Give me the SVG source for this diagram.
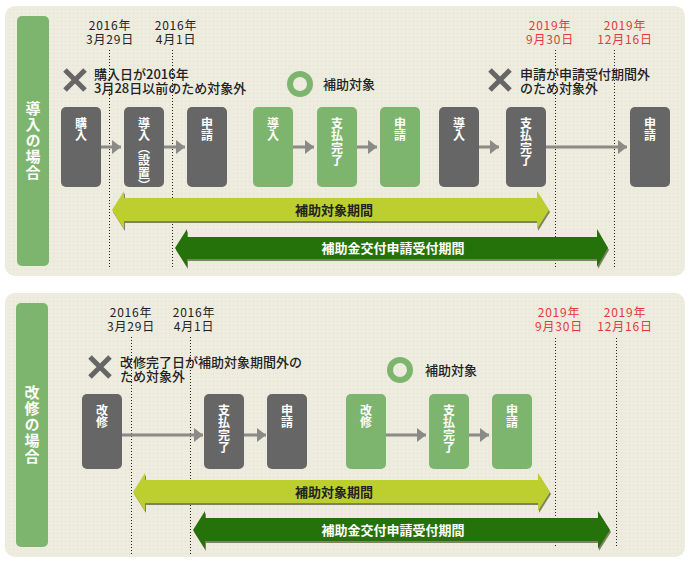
<svg xmlns="http://www.w3.org/2000/svg" width="694" height="561" viewBox="0 0 694 561">
<defs>
<pattern id="dots" width="4" height="4" patternUnits="userSpaceOnUse">
<rect width="4" height="4" fill="#edecdf"/>
<rect x="1" y="1" width="1" height="1" fill="#e1e0d0"/>
</pattern>
<marker id="ah" viewBox="0 0 9 14" refX="9" refY="7" markerWidth="9" markerHeight="14" markerUnits="userSpaceOnUse" orient="auto">
<path d="M0,0 L9,7 L0,14 Z" fill="#8a8a87"/>
</marker>
<style>
.panel{fill:url(#dots)}
.bar{fill:#7db56e}
.bartxt{font-family:"Noto Sans CJK JP",sans-serif;font-weight:bold;font-size:15px;fill:#fff;writing-mode:vertical-rl;text-anchor:middle;letter-spacing:1px}
.gray{fill:#666666}
.green{fill:#7db56e}
.bt{font-family:"Noto Sans CJK JP",sans-serif;font-weight:bold;font-size:12px;fill:#fff;writing-mode:vertical-rl;letter-spacing:0.5px}
.date{font-family:"Noto Sans CJK JP",sans-serif;font-size:12px;fill:#222;text-anchor:middle;letter-spacing:0.8px}
.red{fill:#e23a3a}
.note{font-family:"Noto Sans CJK JP",sans-serif;font-size:13px;fill:#222;font-weight:500}
.dotline{stroke:#222;stroke-width:1;stroke-dasharray:1 2;fill:none}
.xm{stroke:#666;stroke-width:5;fill:none}
.om{stroke:#7db56e;stroke-width:6;fill:none}
.flow{stroke:#8a8a87;stroke-width:3;fill:none;marker-end:url(#ah)}
.shadow{fill:#7f8166}
.lg{fill:#bdcf2e}
.dg{fill:#26720a}
.lgt{font-family:"Noto Sans CJK JP",sans-serif;font-weight:bold;font-size:13px;fill:#222;text-anchor:middle}
.dgt{font-family:"Noto Sans CJK JP",sans-serif;font-weight:bold;font-size:13px;fill:#fff;text-anchor:middle}
</style>
</defs>
<rect width="694" height="561" fill="#fff"/>

<!-- Top panel -->
<g id="panel-top">
<rect class="panel" x="5" y="6" width="680" height="270" rx="10"/>
<rect class="bar" x="17" y="16" width="32" height="250" rx="5"/>
<text class="bartxt" x="33" y="141">導入の場合</text>
</g>

<g id="dates-top">
<text class="date" x="110" y="30">2016年<tspan x="110" dy="14">3月29日</tspan></text>
<text class="date" x="176" y="30">2016年<tspan x="176" dy="14">4月1日</tspan></text>
<text class="date red" x="550" y="30">2019年<tspan x="550" dy="14">9月30日</tspan></text>
<text class="date red" x="625" y="30">2019年<tspan x="625" dy="14">12月16日</tspan></text>
<line class="dotline" x1="109.5" y1="50" x2="109.5" y2="267"/>
<line class="dotline" x1="172.5" y1="50" x2="172.5" y2="267"/>
<line class="dotline" x1="555.5" y1="50" x2="555.5" y2="267"/>
<line class="dotline" x1="614.5" y1="50" x2="614.5" y2="267"/>
</g>

<g id="notes-top">
<path class="xm" d="M65,70 L85,90 M85,70 L65,90"/>
<text class="note" x="94" y="79">購入日が2016年<tspan x="94" dy="14">3月28日以前のため対象外</tspan></text>
<circle class="om" cx="300" cy="84" r="10"/>
<text class="note" x="323" y="89">補助対象</text>
<path class="xm" d="M490,70 L510,90 M510,70 L490,90"/>
<text class="note" x="520" y="79">申請が申請受付期間外<tspan x="520" dy="14">のため対象外</tspan></text>
</g>

<g id="period-top">
<path class="shadow" d="M113,212 L125,193 L125,200 L538,200 L538,193 L550,212 L538,231 L538,223 L125,223 L125,231 Z"/>
<path class="lg" d="M112,210 L124,191 L124,198 L537,198 L537,191 L549,210 L537,229 L537,221 L124,221 L124,229 Z"/>
<text class="lgt" x="334" y="215">補助対象期間</text>
<path class="shadow" d="M176,250 L188,231 L188,239 L598,239 L598,231 L609,250 L598,269 L598,261 L188,261 L188,269 Z"/>
<path class="dg" d="M175,248 L187,229 L187,237 L597,237 L597,229 L608,248 L597,267 L597,259 L187,259 L187,267 Z"/>
<text class="dgt" x="393" y="253">補助金交付申請受付期間</text>
</g>

<g id="connectors-top">
<line class="flow" x1="101" y1="147" x2="121" y2="147"/>
<line class="flow" x1="164" y1="147" x2="185" y2="147"/>
<line class="flow" x1="293" y1="147" x2="314" y2="147"/>
<line class="flow" x1="357" y1="147" x2="377" y2="147"/>
<line class="flow" x1="478" y1="147" x2="499" y2="147"/>
<line class="flow" x1="546" y1="147" x2="627" y2="147"/>
</g>

<g id="t-purchase"><rect class="gray" x="61" y="107" width="40" height="80" rx="5"/><text class="bt" x="81" y="117">購入</text></g>
<g id="t-install"><rect class="gray" x="124" y="107" width="40" height="80" rx="5"/><text class="bt" x="144" y="117">導入（設置）</text></g>
<g id="t-apply1"><rect class="gray" x="187" y="107" width="40" height="80" rx="5"/><text class="bt" x="207" y="117">申請</text></g>
<g id="t-install2"><rect class="green" x="253" y="107" width="40" height="80" rx="5"/><text class="bt" x="273" y="117">導入</text></g>
<g id="t-pay2"><rect class="green" x="317" y="107" width="40" height="80" rx="5"/><text class="bt" x="337" y="117">支払完了</text></g>
<g id="t-apply2"><rect class="green" x="380" y="107" width="40" height="80" rx="5"/><text class="bt" x="400" y="117">申請</text></g>
<g id="t-install3"><rect class="gray" x="439" y="107" width="40" height="80" rx="5"/><text class="bt" x="459" y="117">導入</text></g>
<g id="t-pay3"><rect class="gray" x="506" y="107" width="40" height="80" rx="5"/><text class="bt" x="526" y="117">支払完了</text></g>
<g id="t-apply3"><rect class="gray" x="630" y="107" width="40" height="80" rx="5"/><text class="bt" x="650" y="117">申請</text></g>

<!-- Bottom panel -->
<g id="panel-bottom">
<rect class="panel" x="5" y="293" width="680" height="264" rx="10"/>
<rect class="bar" x="16" y="303" width="32" height="244" rx="5"/>
<text class="bartxt" x="32" y="425">改修の場合</text>
</g>

<g id="dates-bottom">
<text class="date" x="131" y="317">2016年<tspan x="131" dy="14">3月29日</tspan></text>
<text class="date" x="194" y="317">2016年<tspan x="194" dy="14">4月1日</tspan></text>
<text class="date red" x="559" y="317">2019年<tspan x="559" dy="14">9月30日</tspan></text>
<text class="date red" x="625" y="317">2019年<tspan x="625" dy="14">12月16日</tspan></text>
<line class="dotline" x1="131.5" y1="337" x2="131.5" y2="556"/>
<line class="dotline" x1="190.5" y1="337" x2="190.5" y2="556"/>
<line class="dotline" x1="555.5" y1="338" x2="555.5" y2="548"/>
<line class="dotline" x1="616.5" y1="338" x2="616.5" y2="548"/>
</g>

<g id="notes-bottom">
<path class="xm" d="M90,357 L110,377 M110,357 L90,377"/>
<text class="note" x="120" y="367">改修完了日が補助対象期間外の<tspan x="120" dy="14">ため対象外</tspan></text>
<circle class="om" cx="400" cy="370" r="10"/>
<text class="note" x="425" y="375">補助対象</text>
</g>

<g id="period-bottom">
<path class="shadow" d="M134,494 L146,475 L146,482 L539,482 L539,475 L551,494 L539,513 L539,505 L146,505 L146,513 Z"/>
<path class="lg" d="M133,492 L145,473 L145,480 L538,480 L538,473 L550,492 L538,511 L538,503 L145,503 L145,511 Z"/>
<text class="lgt" x="334" y="497">補助対象期間</text>
<path class="shadow" d="M194,532 L206,513 L206,520 L599,520 L599,513 L611,532 L599,551 L599,543 L206,543 L206,551 Z"/>
<path class="dg" d="M193,530 L205,511 L205,518 L598,518 L598,511 L610,530 L598,549 L598,541 L205,541 L205,549 Z"/>
<text class="dgt" x="393" y="535">補助金交付申請受付期間</text>
</g>

<g id="connectors-bottom">
<line class="flow" x1="122" y1="435" x2="203" y2="435"/>
<line class="flow" x1="244" y1="435" x2="266" y2="435"/>
<line class="flow" x1="386" y1="435" x2="426" y2="435"/>
<line class="flow" x1="469" y1="435" x2="489" y2="435"/>
</g>

<g id="r-renov1"><rect class="gray" x="82" y="394" width="40" height="75" rx="5"/><text class="bt" x="102" y="404">改修</text></g>
<g id="r-pay1"><rect class="gray" x="204" y="394" width="40" height="75" rx="5"/><text class="bt" x="224" y="404">支払完了</text></g>
<g id="r-apply1"><rect class="gray" x="267" y="394" width="40" height="75" rx="5"/><text class="bt" x="287" y="404">申請</text></g>
<g id="r-renov2"><rect class="green" x="346" y="394" width="40" height="75" rx="5"/><text class="bt" x="366" y="404">改修</text></g>
<g id="r-pay2"><rect class="green" x="429" y="394" width="40" height="75" rx="5"/><text class="bt" x="449" y="404">支払完了</text></g>
<g id="r-apply2"><rect class="green" x="492" y="394" width="40" height="75" rx="5"/><text class="bt" x="512" y="404">申請</text></g>
</svg>
